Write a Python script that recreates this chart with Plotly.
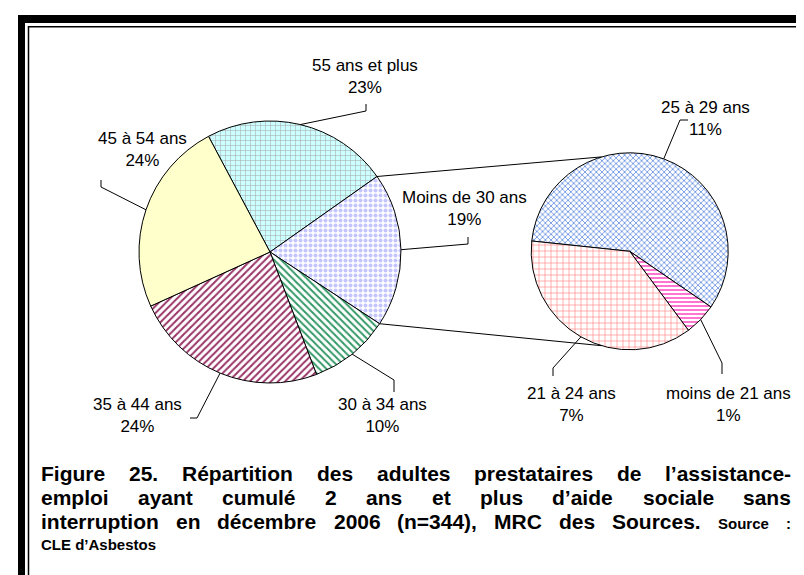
import math
import plotly.graph_objects as go

W, H = 804, 575

# main pie: adults with 2+ years of social assistance, by age group
main_labels = ["55 ans et plus", "Moins de 30 ans", "30 à 34 ans", "35 à 44 ans", "45 à 54 ans"]
main_values = [23, 19, 10, 24, 24]

# secondary pie: breakdown of "Moins de 30 ans"
sub_labels = ["25 à 29 ans", "moins de 21 ans", "21 à 24 ans"]
sub_values = [11, 1, 7]

caption_lines = [
    "Figure 25. Répartition des adultes prestataires de l’assistance-",
    "emploi ayant cumulé 2 ans et plus d’aide sociale sans",
    "interruption en décembre 2006 (n=344), MRC des Sources.",
]
caption_source = "Source :"
caption_last = "CLE d’Asbestos"

# geometry in pixels (center x, center y, radius, rotation)
MAIN_C, MAIN_R, MAIN_ROT = (262, 244), 131, -28
SUB_C, SUB_R, SUB_ROT = (621.7, 243.3), 98.5, -84

FONT = "Liberation Sans, Arial, sans-serif"


def px(x):
    return x / W


def py(y):
    return 1 - y / H


def edge(c, r, ang):
    a = math.radians(ang)
    return c[0] + r * math.sin(a), c[1] - r * math.cos(a)


def mid_angles(values, rot):
    tot = sum(values)
    out = []
    start = rot
    for v in values:
        span = 360.0 * v / tot
        out.append((start, start + span, start + span / 2))
        start += span
    return out


def domain(c, r):
    return dict(x=[px(c[0] - r), px(c[0] + r)], y=[py(c[1] + r), py(c[1] - r)])


fig = go.Figure()

fig.add_trace(go.Pie(
    labels=main_labels, values=main_values, sort=False, direction="clockwise",
    rotation=MAIN_ROT, domain=domain(MAIN_C, MAIN_R), textinfo="none",
    hoverinfo="label+percent", showlegend=False,
    marker=dict(
        colors=["#ccffff", "#ffffff", "#ffffff", "#ffffff", "#ffffcc"],
        line=dict(color="black", width=1),
        pattern=dict(
            shape=["+", ".", "\\", "/", ""],
            fgcolor=["#a8a8a8", "#c4c4ff", "#339966", "#993366", "#ffffcc"],
            bgcolor=["#ccffff", "#ffffff", "#ffffff", "#ffffff", "#ffffcc"],
            size=[5, 5, 5, 5, 8],
            solidity=[0.2, 0.5, 0.4, 0.4, 0.3],
        ),
    ),
))

fig.add_trace(go.Pie(
    labels=sub_labels, values=sub_values, sort=False, direction="clockwise",
    rotation=SUB_ROT, domain=domain(SUB_C, SUB_R), textinfo="none",
    hoverinfo="label+percent", showlegend=False,
    marker=dict(
        colors=["#ffffff", "#ffffff", "#ffffff"],
        line=dict(color="black", width=1),
        pattern=dict(
            shape=["x", "-", "+"],
            fgcolor=["#3a6fd8", "#ff66cc", "#ff8080"],
            bgcolor=["#ffffff", "#ffffff", "#ffffff"],
            size=[4, 4, 6],
            solidity=[0.3, 0.45, 0.2],
        ),
    ),
))

shapes = []
annotations = []

# label blocks (center x, center y) and leader elbows / tick ends
main_pos = [(357, 68), (456, 200), (374, 407), (129, 407), (134, 142)]
main_elbow = [(358, 103), (460, 236), (386, 372), (189, 410), (93, 179)]
main_tick = [(358, 96), (460, 229), (386, 384), (182, 410), (93, 172)]

sub_pos = [(697, 110), (720, 396), (563, 396)]
sub_elbow = [(672, 112), (714, 355), (545, 360)]
sub_tick = [(680, 112), (714, 366), (545, 368)]


def add_labels(labels, values, c, r, rot, pos, elbow, tick):
    for lab, v, (a0, a1, am), p, e, t in zip(labels, values, mid_angles(values, rot), pos, elbow, tick):
        annotations.append(dict(
            x=px(p[0]), y=py(p[1]), xref="paper", yref="paper", showarrow=False,
            text=f"{lab}<br>{v}%", align="center",
            xanchor="center", yanchor="middle",
            font=dict(family=FONT, size=17, color="black"),
        ))
        x0, y0 = edge(c, r, am)
        shapes.append(dict(
            type="path", xref="paper", yref="paper",
            path=f"M {px(x0)} {py(y0)} L {px(e[0])} {py(e[1])} L {px(t[0])} {py(t[1])}",
            line=dict(color="black", width=1),
        ))


add_labels(main_labels, main_values, MAIN_C, MAIN_R, MAIN_ROT, main_pos, main_elbow, main_tick)
add_labels(sub_labels, sub_values, SUB_C, SUB_R, SUB_ROT, sub_pos, sub_elbow, sub_tick)

# connector lines from the "Moins de 30 ans" slice to the secondary pie
a0, a1, _ = mid_angles(main_values, MAIN_ROT)[1]
for a_main, a_sub in [(a0, 360 - 16.6), (a1, 180 + 16.6)]:
    x0, y0 = edge(MAIN_C, MAIN_R, a_main)
    x1, y1 = edge(SUB_C, SUB_R, a_sub)
    shapes.append(dict(type="line", xref="paper", yref="paper",
                       x0=px(x0), y0=py(y0), x1=px(x1), y1=py(y1),
                       line=dict(color="black", width=1)))

# caption, justified by hand (Arial Bold advance widths)
BOLD_W = {
    " ": 278, ".": 278, ",": 278, ":": 333, "-": 333, "(": 333, ")": 333, "=": 584, "’": 278,
    "A": 722, "B": 722, "C": 722, "D": 722, "E": 667, "F": 611, "L": 611, "M": 833, "R": 722, "S": 667,
    "a": 556, "b": 611, "c": 556, "d": 611, "e": 556, "f": 333, "g": 611, "h": 611, "i": 278,
    "l": 278, "m": 889, "n": 611, "o": 611, "p": 611, "r": 389, "s": 556, "t": 333, "u": 611,
    "v": 556, "y": 556, "é": 556, "à": 556,
}


def tw(s, size):
    return sum(BOLD_W.get(ch, 556) for ch in s) * size / 1000.0


CAP_X0, CAP_X1 = 32, 782
CAP_SIZE, SMALL_SIZE = 21, 15
cap_y = [465, 489, 513]


def add_word(word, x, y, size):
    annotations.append(dict(
        x=px(x), y=py(y), xref="paper", yref="paper", showarrow=False,
        text=f"<b>{word}</b>", xanchor="left", yanchor="middle", borderpad=0,
        font=dict(family=FONT, size=size, color="black"),
    ))


for i, line in enumerate(caption_lines):
    words = [(w, CAP_SIZE) for w in line.split(" ")]
    if i == 2:
        words += [(w, SMALL_SIZE) for w in caption_source.split(" ")]
    total = sum(tw(w, s) for w, s in words)
    gap = (CAP_X1 - CAP_X0 - total) / (len(words) - 1)
    x = CAP_X0
    for w, s in words:
        add_word(w, x, cap_y[i] + (2 if s == SMALL_SIZE else 0), s)
        x += tw(w, s) + gap

add_word(caption_last, CAP_X0, 536, SMALL_SIZE)

# double frame: heavy black band top/left/right, thin inner rule
for x0, y0, x1, y1 in [(10, 7, 17, 575), (10, 7, 804, 15), (798, 7, 804, 575)]:
    shapes.append(dict(type="rect", xref="paper", yref="paper",
                       x0=px(x0), y0=py(y1), x1=px(x1), y1=py(y0),
                       fillcolor="black", line=dict(width=0)))
shapes.append(dict(type="rect", xref="paper", yref="paper",
                   x0=px(20.5), y0=py(572.7), x1=px(795), y1=py(18.8),
                   line=dict(color="black", width=1.5)))

fig.update_layout(
    width=W, height=H, margin=dict(l=0, r=0, t=0, b=0),
    paper_bgcolor="white", plot_bgcolor="white",
    shapes=shapes, annotations=annotations, showlegend=False,
)

fig.write_html("out.html")
